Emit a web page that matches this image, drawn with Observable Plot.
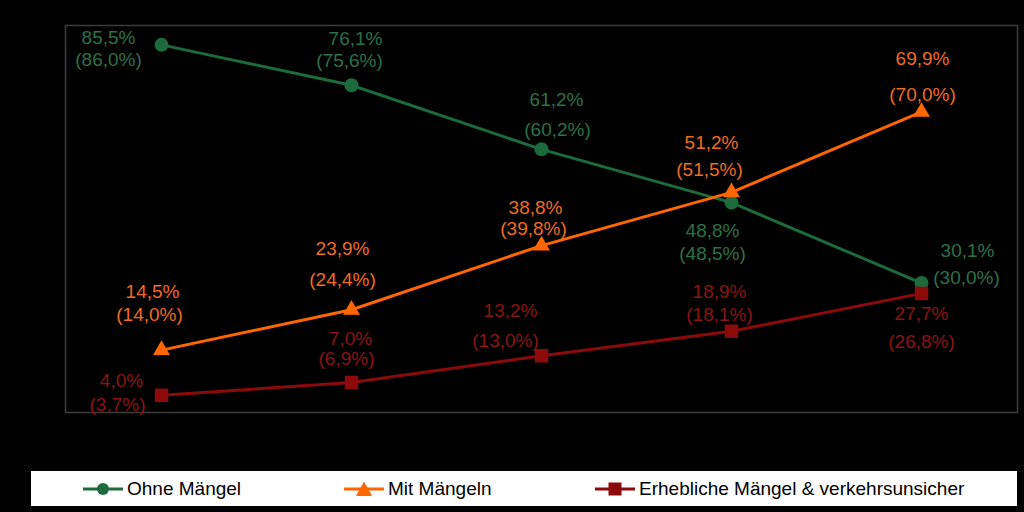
<!DOCTYPE html>
<html>
<head>
<meta charset="utf-8">
<script src="https://cdn.jsdelivr.net/npm/d3@7"></script>
<script src="https://cdn.jsdelivr.net/npm/@observablehq/plot@0.6"></script>
<style>
  html, body { margin: 0; padding: 0; background: #000; }
  #wrap { position: relative; width: 1024px; height: 512px; background: #000; overflow: hidden; font-family: "Liberation Sans", Arial, sans-serif; }
  #legend { position: absolute; left: 31px; top: 471px; width: 986px; height: 35px; background: #fff; }
  .item { position: absolute; top: 0; height: 35px; display: flex; align-items: center; font-size: 19px; color: #000; }
  .item svg { margin-right: 4px; }
</style>
</head>
<body>
<div id="wrap"><div id="chart"></div><div id="legend"></div></div>
<script>
// ---- data ----
const categories = ["2–3 Jahre", "4–5 Jahre", "6–7 Jahre", "8–9 Jahre", "10–11 Jahre"];
const seriesNames = ["Ohne Mängel", "Mit Mängeln", "Erhebliche Mängel & verkehrsunsicher"];
const ohneMaengel = [85.5, 76.1, 61.2, 48.8, 30.1];
const ohneMaengelVorjahr = [86.0, 75.6, 60.2, 48.5, 30.0];
const mitMaengeln = [14.5, 23.9, 38.8, 51.2, 69.9];
const mitMaengelnVorjahr = [14.0, 24.4, 39.8, 51.5, 70.0];
const erheblich = [4.0, 7.0, 13.2, 18.9, 27.7];
const erheblichVorjahr = [3.7, 6.9, 13.0, 18.1, 26.8];

// ---- layout / style ----
const colors = ["#1d6b3c", "#ff6600", "#8c0a0a"];
const textColors = ["#2c7049", "#f06a22", "#8c1414"];
const symbols = ["circle", "triangle", "square"];
const symbolR = [7, 6.3, 7.6];
// label offsets per series per point: [dx1, dy1, dx2, dy2]
const labelOffsets = [
  [[-53, -7, -53, 15], [4, -46, -2, -24], [15, -49, 16, -19], [-19, 28, -19, 51], [46, -32, 45, -5]],
  [[-9, -58, -12, -35], [-9, -61, -9, -30], [-6, -38, -8, -17], [-20, -49, -22, -22], [1, -53, 1, -17]],
  [[-40, -14, -44, 10], [-1, -43, -5, -23], [-31, -45, -36, -15], [-12, -39, -12, -16], [0, 21, 0, 49]]
];

const values = [ohneMaengel, mitMaengeln, erheblich];
const prevValues = [ohneMaengelVorjahr, mitMaengelnVorjahr, erheblichVorjahr];
const fmt = v => v.toFixed(1).replace(".", ",") + "%";

const marks = [Plot.frame({stroke: "#3c3c3c", strokeWidth: 1.5})];
values.forEach((vals, s) => {
  const rows = categories.map((c, i) => ({cat: c, v: vals[i], p: prevValues[s][i], i}));
  marks.push(Plot.line(rows, {x: "cat", y: "v", stroke: colors[s], strokeWidth: 3}));
  marks.push(Plot.dot(rows, {x: "cat", y: "v", symbol: () => symbols[s], fill: colors[s], r: symbolR[s], stroke: "none"}));
});
values.forEach((vals, s) => {
  categories.forEach((c, i) => {
    const [dx1, dy1, dx2, dy2] = labelOffsets[s][i];
    const row = [{cat: c, v: vals[i], p: prevValues[s][i]}];
    marks.push(Plot.text(row, {x: "cat", y: "v", text: d => fmt(d.v), dx: dx1, dy: dy1, fill: textColors[s], fontSize: 19, lineAnchor: "middle"}));
    marks.push(Plot.text(row, {x: "cat", y: "v", text: d => "(" + fmt(d.p) + ")", dx: dx2, dy: dy2, fill: textColors[s], fontSize: 19, lineAnchor: "middle"}));
  });
});

const chart = Plot.plot({
  width: 1024,
  height: 465,
  marginLeft: 65,
  marginRight: 7,
  marginTop: 25,
  marginBottom: 53,
  style: {background: "#000", fontFamily: "'Liberation Sans', Arial, sans-serif", overflow: "visible"},
  x: {type: "point", domain: categories, padding: 0.5, axis: null},
  y: {domain: [0, 90], axis: null},
  marks
});
document.getElementById("chart").appendChild(chart);

// ---- legend ----
const legendX = [52, 313, 564];
const legend = document.getElementById("legend");
seriesNames.forEach((name, s) => {
  const item = document.createElement("div");
  item.className = "item";
  item.style.left = legendX[s] + "px";
  const sym = s === 0 ? `<circle cx="20" cy="9" r="6" fill="${colors[s]}"/>`
    : s === 1 ? `<path d="M20,1.5 L28,16 L12,16 Z" fill="${colors[s]}"/>`
    : `<rect x="13.5" y="2.5" width="13" height="13" fill="${colors[s]}"/>`;
  item.innerHTML = `<svg width="40" height="18"><line x1="0" x2="40" y1="9" y2="9" stroke="${colors[s]}" stroke-width="3"/>${sym}</svg><span>${name}</span>`;
  legend.appendChild(item);
});
</script>
</body>
</html>
